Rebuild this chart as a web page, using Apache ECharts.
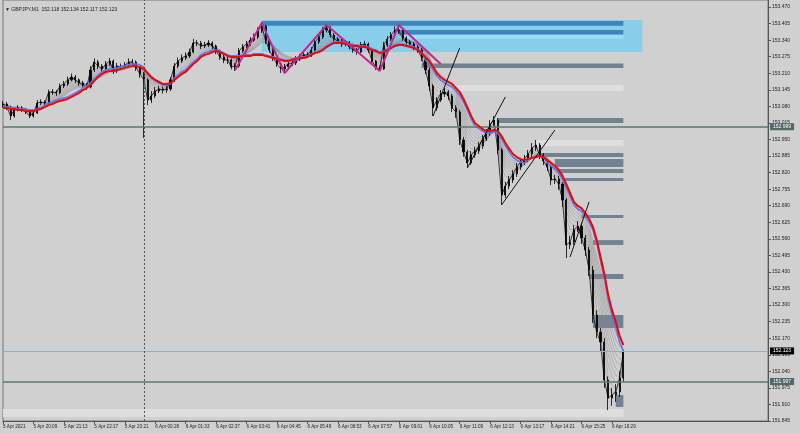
<!DOCTYPE html>
<html><head><meta charset="utf-8">
<script src="https://cdn.jsdelivr.net/npm/echarts@6/dist/echarts.min.js"></script>
<style>html,body{margin:0;padding:0;background:#d0d0d0}#c{width:800px;height:433px}</style>
</head><body><div id="c"></div>
<script>
const tickLabels = ['5 Apr 2021','5 Apr 20:09','5 Apr 21:13','5 Apr 22:17','5 Apr 23:21','6 Apr 00:28','6 Apr 01:33','6 Apr 02:37','6 Apr 03:41','6 Apr 04:45','6 Apr 05:49','6 Apr 06:53','6 Apr 07:57','6 Apr 09:01','6 Apr 10:05','6 Apr 11:09','6 Apr 12:13','6 Apr 13:17','6 Apr 14:21','6 Apr 15:25','6 Apr 16:29'];
const priceTicks = [153.470,153.405,153.340,153.275,153.210,153.145,153.080,153.015,152.950,152.885,152.820,152.755,152.690,152.625,152.560,152.495,152.430,152.365,152.300,152.235,152.170,152.105,152.040,151.975,151.910,151.845];
const slots = 202; // 8-minute slots incl. right-side chart shift

const opens = [153.085,153.089,153.077,153.042,153.066,153.074,153.066,153.058,153.042,153.054,
153.093,153.097,153.093,153.136,153.136,153.133,153.160,153.168,153.184,153.195,
153.184,153.172,153.164,153.156,153.223,153.254,153.238,153.227,153.246,153.258,
153.219,153.238,153.235,153.242,153.254,153.254,153.231,153.207,153.184,153.105,
153.121,153.140,153.148,153.144,153.148,153.184,153.238,153.258,153.270,153.278,
153.293,153.329,153.329,153.317,153.321,153.329,153.317,153.297,153.274,153.262,
153.262,153.235,153.238,153.297,153.313,153.325,153.340,153.352,153.376,153.395,
153.337,153.301,153.270,153.246,153.227,153.235,153.246,153.250,153.266,153.274,
153.282,153.282,153.301,153.333,153.352,153.380,153.388,153.360,153.344,153.337,
153.325,153.329,153.313,153.301,153.293,153.321,153.325,153.301,153.258,153.231,
153.227,153.321,153.344,153.360,153.380,153.376,153.348,153.333,153.325,153.313,
153.301,153.270,153.223,153.160,153.074,153.105,153.129,153.136,153.121,153.074,
153.058,152.948,152.901,152.858,152.889,152.905,152.924,152.952,152.975,153.011,
153.026,152.909,152.732,152.767,152.791,152.815,152.842,152.862,152.873,152.893,
152.917,152.928,152.889,152.866,152.842,152.791,152.795,152.775,152.712,152.536,
152.548,152.595,152.610,152.563,152.516,152.438,152.261,152.194,152.155,152.006,
151.935,151.947,151.959,152.014];
const closes = [153.089,153.077,153.042,153.066,153.074,153.066,153.058,153.042,153.054,153.093,
153.097,153.093,153.136,153.136,153.133,153.160,153.168,153.184,153.195,153.184,
153.172,153.164,153.156,153.223,153.254,153.238,153.227,153.246,153.258,153.219,
153.238,153.235,153.242,153.254,153.254,153.231,153.207,153.184,153.105,153.121,
153.140,153.148,153.144,153.148,153.184,153.238,153.258,153.270,153.278,153.293,
153.329,153.329,153.317,153.321,153.329,153.317,153.297,153.274,153.262,153.262,
153.235,153.238,153.297,153.313,153.325,153.340,153.352,153.376,153.395,153.337,
153.301,153.270,153.246,153.227,153.235,153.246,153.250,153.266,153.274,153.282,
153.282,153.301,153.333,153.352,153.380,153.388,153.360,153.344,153.337,153.325,
153.329,153.313,153.301,153.293,153.321,153.325,153.301,153.258,153.231,153.227,
153.321,153.344,153.360,153.380,153.376,153.348,153.333,153.325,153.313,153.301,
153.270,153.223,153.160,153.074,153.105,153.129,153.136,153.121,153.074,153.058,
152.948,152.901,152.858,152.889,152.905,152.924,152.952,152.975,153.011,153.026,
152.909,152.732,152.767,152.791,152.815,152.842,152.862,152.873,152.893,152.917,
152.928,152.889,152.866,152.842,152.791,152.795,152.775,152.712,152.536,152.548,
152.595,152.610,152.563,152.516,152.438,152.261,152.194,152.155,152.006,151.935,
151.947,151.959,152.014,152.116];
const highs = [153.101,153.097,153.082,153.074,153.085,153.081,153.072,153.064,153.062,153.105,
153.108,153.104,153.146,153.148,153.144,153.170,153.180,153.197,153.209,153.203,
153.190,153.180,153.172,153.238,153.268,153.262,153.246,153.258,153.270,153.264,
153.250,153.248,153.254,153.268,153.266,153.260,153.238,153.215,153.190,153.140,
153.156,153.160,153.158,153.162,153.195,153.250,153.272,153.284,153.292,153.307,
153.345,153.340,153.337,153.333,153.340,153.335,153.323,153.303,153.282,153.274,
153.268,153.250,153.309,153.325,153.337,153.352,153.366,153.390,153.411,153.400,
153.345,153.309,153.278,153.252,153.246,153.258,153.262,153.278,153.286,153.294,
153.293,153.313,153.345,153.364,153.392,153.399,153.395,153.368,153.352,153.345,
153.340,153.337,153.320,153.309,153.333,153.337,153.331,153.305,153.262,153.240,
153.333,153.356,153.372,153.394,153.392,153.382,153.356,153.340,153.333,153.321,
153.309,153.278,153.231,153.168,153.117,153.144,153.152,153.144,153.129,153.085,
153.066,152.960,152.909,152.905,152.921,152.940,152.968,152.991,153.026,153.042,
153.034,152.917,152.783,152.807,152.830,152.858,152.878,152.889,152.909,152.936,
152.948,152.936,152.897,152.873,152.850,152.811,152.807,152.783,152.720,152.571,
152.614,152.630,152.622,152.575,152.528,152.454,152.280,152.210,152.170,152.020,
151.975,151.990,152.040,152.125];
const lows = [153.075,153.066,153.026,153.035,153.060,153.058,153.050,153.034,153.036,153.050,
153.085,153.082,153.089,153.125,153.121,153.127,153.152,153.160,153.178,153.172,
153.160,153.154,153.144,153.150,153.215,153.226,153.215,153.220,153.238,153.207,
153.211,153.225,153.227,153.236,153.240,153.219,153.192,152.956,153.085,153.093,
153.113,153.132,153.130,153.133,153.140,153.176,153.230,153.250,153.262,153.270,
153.288,153.317,153.305,153.309,153.313,153.305,153.285,153.262,153.250,153.246,
153.225,153.219,153.232,153.290,153.305,153.317,153.333,153.344,153.368,153.325,
153.290,153.258,153.235,153.211,153.219,153.227,153.238,153.242,153.258,153.266,
153.270,153.274,153.295,153.325,153.344,153.370,153.350,153.333,153.325,153.313,
153.315,153.303,153.290,153.282,153.288,153.311,153.290,153.245,153.223,153.221,
153.223,153.313,153.337,153.352,153.364,153.337,153.321,153.313,153.301,153.290,
153.258,153.207,153.140,153.042,153.062,153.097,153.117,153.105,153.058,153.035,
152.928,152.882,152.838,152.850,152.878,152.893,152.913,152.944,152.964,153.003,
152.893,152.693,152.720,152.755,152.779,152.803,152.830,152.850,152.862,152.881,
152.905,152.873,152.850,152.826,152.771,152.775,152.752,152.685,152.485,152.520,
152.536,152.587,152.540,152.493,152.414,152.230,152.170,152.120,151.975,151.888,
151.905,151.920,151.940,152.000];
const redMA = [153.074,153.074,153.070,153.070,153.066,153.066,153.062,153.062,153.062,153.066,
153.070,153.077,153.085,153.089,153.097,153.101,153.105,153.109,153.117,153.125,
153.133,153.144,153.152,153.164,153.180,153.195,153.207,153.215,153.219,153.219,
153.223,153.227,153.231,153.235,153.238,153.238,153.235,153.227,153.211,153.195,
153.184,153.176,153.168,153.168,153.172,153.184,153.195,153.207,153.215,153.231,
153.246,153.258,153.274,153.282,153.286,153.293,153.297,153.293,153.286,153.278,
153.274,153.274,153.274,153.278,153.278,153.278,153.282,153.282,153.282,153.278,
153.274,153.270,153.266,153.262,153.258,153.258,153.262,153.266,153.270,153.270,
153.274,153.282,153.289,153.293,153.301,153.313,153.321,153.329,153.329,153.329,
153.325,153.321,153.317,153.317,153.313,153.313,153.309,153.301,153.297,153.289,
153.293,153.301,153.309,153.317,153.321,153.321,153.317,153.313,153.309,153.301,
153.289,153.274,153.258,153.235,153.211,153.195,153.184,153.176,153.168,153.152,
153.136,153.109,153.077,153.042,153.015,153.003,152.991,152.983,152.983,152.987,
152.983,152.964,152.936,152.913,152.893,152.881,152.873,152.869,152.873,152.877,
152.881,152.885,152.881,152.869,152.858,152.846,152.830,152.807,152.775,152.740,
152.705,152.689,152.681,152.661,152.638,152.607,152.555,152.489,152.422,152.340,
152.281,152.234,152.179,152.143];
const blueMA = [153.078,153.078,153.074,153.074,153.070,153.070,153.066,153.066,153.066,153.070,
153.074,153.085,153.093,153.097,153.105,153.109,153.113,153.117,153.125,153.133,
153.141,153.152,153.160,153.172,153.188,153.203,153.215,153.223,153.227,153.227,
153.231,153.235,153.239,153.243,153.246,153.246,153.243,153.235,153.207,153.191,
153.180,153.172,153.164,153.164,153.168,153.192,153.203,153.215,153.223,153.239,
153.254,153.266,153.282,153.290,153.294,153.301,153.301,153.297,153.290,153.282,
153.278,153.278,153.278,153.282,153.282,153.282,153.286,153.286,153.286,153.282,
153.278,153.274,153.270,153.266,153.262,153.262,153.266,153.270,153.274,153.274,
153.278,153.286,153.293,153.297,153.305,153.317,153.325,153.333,153.333,153.333,
153.329,153.325,153.321,153.321,153.317,153.317,153.313,153.305,153.301,153.293,
153.297,153.305,153.313,153.321,153.325,153.325,153.321,153.317,153.313,153.305,
153.293,153.262,153.246,153.223,153.199,153.183,153.172,153.164,153.156,153.140,
153.124,153.097,153.065,153.030,153.003,152.995,152.983,152.975,152.975,152.979,
152.975,152.952,152.924,152.901,152.881,152.869,152.861,152.857,152.873,152.877,
152.881,152.885,152.881,152.857,152.846,152.834,152.818,152.795,152.763,152.728,
152.693,152.677,152.669,152.649,152.626,152.595,152.543,152.473,152.406,152.320,
152.261,152.210,152.155,152.119];
const fanPeriods = [2,3,4,5,6,7,8,9,10,11];
// zigzag pivots: [slot, price]
const zigzag = [[61,153.223],[68,153.407],[74,153.211],[85,153.399],[99,153.219],[104,153.399],[115,153.246]];
const trendLines = [
  [[113,153.042],[120,153.309]],
  [[122,152.838],[132,153.117]],
  [[131,152.693],[145,152.987]],
  [[149,152.489],[154,152.705]]
];
// zones: [startSlot, endSlot, top, bottom, kind]
const zones = [
  [68,168,153.419,153.293,'box'],
  [68,163,153.415,153.396,'dark'],
  [104,163,153.380,153.362,'dark'],
  [104,163,153.360,153.345,'pale'],
  [110,163,153.248,153.231,'slate'],
  [117,163,153.164,153.140,'light'],
  [130,163,153.034,153.015,'slate'],
  [140,163,152.948,152.924,'light'],
  [141,163,152.897,152.881,'slate'],
  [145,163,152.873,152.842,'slate'],
  [146,163,152.834,152.818,'slate'],
  [147,163,152.799,152.787,'slate'],
  [152,163,152.654,152.642,'slate'],
  [155,163,152.555,152.536,'slate'],
  [154,163,152.422,152.402,'slate'],
  [155,163,152.261,152.210,'slate'],
  [161,163,151.947,151.900,'slate'],
  [0,163,151.892,151.861,'light']
];
const levels = [
  {price:152.999, label:'152.999', kind:'level'},
  {price:151.997, label:'151.997', kind:'level'},
  {price:152.123, label:'152.123', kind:'bid'}
];
const daySeparatorSlot = 37;

const zoneColors = {box:'#87ceeb', dark:'#3c84bd', pale:'#9edcf5', slate:'#718393', light:'#dedede'};

const categories = Array.from({length: slots}, (_, i) => String(i));
const isTick = i => i % 8 === 0 && i / 8 < tickLabels.length;

function ema(arr, p) {
  const k = 2 / (p + 1); let e = arr[0]; const out = [];
  for (let i = 0; i < arr.length; i++) { e = arr[i] * k + e * (1 - k); out.push(+e.toFixed(4)); }
  return out;
}

const candles = opens.map((o, i) => [o, closes[i], lows[i], highs[i]]);

const series = [];
series.push({
  type: 'line', data: closes, symbol: 'none', silent: true, z: 1,
  lineStyle: {opacity: 0},
  markArea: {
    silent: true,
    data: zones.map(z => [
      {xAxis: z[0], yAxis: z[2], itemStyle: {color: zoneColors[z[4]]}},
      {xAxis: z[1], yAxis: z[3]}
    ])
  },
  markLine: {
    silent: true, symbol: 'none', animation: false,
    data: [
      ...levels.map(l => ({
        yAxis: l.price,
        lineStyle: l.kind === 'bid' ? {color: '#9aabbd', width: 1, type: 'solid'} : {color: '#5d7774', width: 1.6, type: 'solid'},
        label: {show: true, position: 'end', formatter: l.label, distance: 2, fontSize: 5, color: '#fff',
          fontFamily: 'Liberation Sans', padding: [1, 3, 1, 3],
          backgroundColor: l.kind === 'bid' ? '#000' : '#4f6b67'}
      })),
      {xAxis: daySeparatorSlot, lineStyle: {color: '#555', width: 1, type: [2, 2]}, label: {show: false}}
    ]
  }
});
fanPeriods.forEach(p => series.push({
  type: 'line', data: ema(closes, p), symbol: 'none', silent: true, z: 2,
  lineStyle: {color: '#8a8a8a', width: 0.5, opacity: 0.9}
}));
series.push({type: 'line', data: closes, symbol: 'none', silent: true, z: 3, lineStyle: {color: '#111', width: 0.8}});
series.push({
  type: 'candlestick', data: candles, barWidth: 1.6, z: 3,
  itemStyle: {color: '#000', color0: '#000', borderColor: '#000', borderColor0: '#000', borderWidth: 0.8}
});
series.push({type: 'line', data: blueMA, symbol: 'none', z: 4, lineStyle: {color: '#4a7dff', width: 1.6}});
series.push({type: 'line', data: redMA, symbol: 'none', z: 5, lineStyle: {color: '#ff0000', width: 2}});
series.push({type: 'line', data: zigzag, symbol: 'none', z: 6, lineStyle: {color: '#c9238f', width: 2}});
trendLines.forEach(t => series.push({type: 'line', data: t, symbol: 'none', z: 6, lineStyle: {color: '#111', width: 1}}));

const chart = echarts.init(document.getElementById('c'), null, {renderer: 'canvas'});
chart.setOption({
  animation: false,
  backgroundColor: '#d0d0d0',
  title: {text: '▼ GBPJPY,M1  152.118 152.134 152.117 152.123', left: 0, top: 2,
    textStyle: {fontSize: 5, fontWeight: 'normal', color: '#222', fontFamily: 'Liberation Sans'}},
  grid: {left: 0, right: 32, top: 0, bottom: 12, show: true, borderColor: '#777', borderWidth: 1, backgroundColor: 'transparent'},
  xAxis: {
    type: 'category', data: categories, boundaryGap: false,
    axisLine: {show: true, lineStyle: {color: '#555'}},
    axisTick: {show: true, length: 3, inside: false, interval: (i) => isTick(i), lineStyle: {color: '#555'}},
    axisLabel: {show: true, interval: (i) => isTick(i), align: 'left', margin: 3, fontSize: 4.6, color: '#222',
      fontFamily: 'Liberation Sans', formatter: (v, i) => isTick(i) ? tickLabels[i / 8] : ''},
    splitLine: {show: false}
  },
  yAxis: {
    type: 'value', position: 'right', min: 151.845, max: 153.4975, scale: true,
    axisLine: {show: true, lineStyle: {color: '#555'}},
    axisTick: {show: true, length: 3, customValues: priceTicks, lineStyle: {color: '#555'}},
    axisLabel: {show: true, customValues: priceTicks, margin: 4, fontSize: 5, color: '#222', fontFamily: 'Liberation Sans',
      formatter: v => v.toFixed(3)},
    splitLine: {show: false}
  },
  series
});
</script></body></html>
